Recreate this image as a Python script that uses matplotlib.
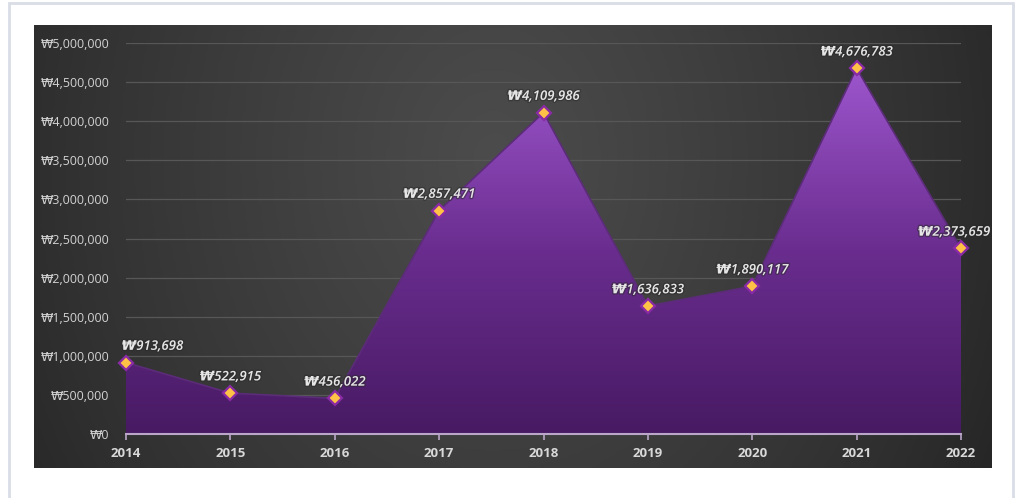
import numpy as np
import matplotlib
matplotlib.use("Agg")
import matplotlib.pyplot as plt
import matplotlib.patches as patches
import matplotlib.patheffects as pe
from matplotlib.colors import LinearSegmentedColormap
from matplotlib.ticker import FuncFormatter

years = [2014, 2015, 2016, 2017, 2018, 2019, 2020, 2021, 2022]
sales = [913698, 522915, 456022, 2857471, 4109986, 1636833, 1890117, 4676783, 2373659]
y_ticks = [0, 500000, 1000000, 1500000, 2000000, 2500000, 3000000, 3500000, 4000000, 4500000, 5000000]

plt.rcParams['font.family'] = ['Open Sans', 'DejaVu Sans']

W, H = 1016, 498
fig = plt.figure(figsize=(W / 100, H / 100), dpi=100, facecolor='white')

def box(x0, y0, x1, y1):
    # pixel box (top-left origin) -> figure fraction rect
    return [x0 / W, (H - y1) / H, (x1 - x0) / W, (y1 - y0) / H]

# card border
card = patches.Rectangle((9 / W, -0.05), (1013 - 9) / W, (H - 3) / H + 0.05,
                         transform=fig.transFigure, fill=False,
                         edgecolor='#d9dde6', linewidth=2)
fig.patches.append(card)

# dark panel with soft glow, darker toward the sides
bg = fig.add_axes(box(34, 25, 992, 468))
gx, gy = np.meshgrid(np.linspace(0, 1, 400), np.linspace(0, 1, 200))
r = np.sqrt(((gx - 0.48) / 0.6) ** 2 + ((gy - 0.3) / 1.6) ** 2)
shade = np.clip(1 - r, 0, 1) ** 0.8
bg_cmap = LinearSegmentedColormap.from_list('bg', ['#262626', '#4c4c4c'])
bg.imshow(shade, cmap=bg_cmap, aspect='auto', extent=[0, 1, 0, 1], origin='upper')
bg.axis('off')

ax = fig.add_axes(box(126, 43, 961, 434))
ax.set_facecolor('none')
ax.set_xlim(years[0], years[-1])
ax.set_ylim(0, 5000000)

# area with vertical purple gradient
verts = [(years[0], 0)] + list(zip(years, sales)) + [(years[-1], 0)]
poly = patches.Polygon(verts, closed=True, facecolor='none', edgecolor='none')
ax.add_patch(poly)
fill_cmap = LinearSegmentedColormap.from_list('fill', ['#471a63', '#6a2d8f', '#9d56cd'])
grad = np.linspace(0, 1, 256).reshape(-1, 1)
img = ax.imshow(grad, cmap=fill_cmap, aspect='auto', origin='lower',
                extent=[years[0], years[-1], 0, 4700000], zorder=2)
img.set_clip_path(poly)
ax.plot(years, sales, color='#5b2c78', lw=1.2, zorder=3)
ax.plot(years, sales, linestyle='none', marker='D', markersize=7,
        markerfacecolor='#ffc246', markeredgecolor='#8a2aa6', markeredgewidth=1.6,
        zorder=5, clip_on=False)

# value labels
for i, (x, v) in enumerate(zip(years, sales)):
    dx = 0
    if i == 0:
        dx = 19
    elif i == len(years) - 1:
        dx = -5
    ax.annotate(f'₩{v:,}', (x, v), xytext=(dx, 7), textcoords='offset points',
                ha='center', va='bottom', fontsize=9.5, fontstyle='italic',
                fontweight='semibold', color='#e6e6e6', zorder=6,
                path_effects=[pe.withStroke(linewidth=2, foreground='#2a2a2a', alpha=0.5)])

ax.set_yticks(y_ticks)
ax.yaxis.set_major_formatter(FuncFormatter(lambda v, p: f'₩{int(v):,}'))
ax.set_xticks(years)
ax.set_xticklabels([str(y) for y in years])
ax.grid(axis='y', color='#575757', lw=0.9, zorder=1)
ax.set_axisbelow(True)
for s in ['top', 'right', 'left']:
    ax.spines[s].set_visible(False)
ax.spines['bottom'].set_color('#b9a6c8')
ax.spines['bottom'].set_linewidth(1.5)
ax.spines['bottom'].set_zorder(4)
ax.tick_params(axis='y', length=0, pad=12, labelsize=9, labelcolor='#d2d2d2')
ax.tick_params(axis='x', length=4, width=1.2, color='#b9a6c8', pad=5,
               labelsize=9.5, labelcolor='#d8d8d8')
for t in ax.get_xticklabels():
    t.set_fontweight('bold')

fig.savefig('out.png', dpi=100, facecolor='white')
